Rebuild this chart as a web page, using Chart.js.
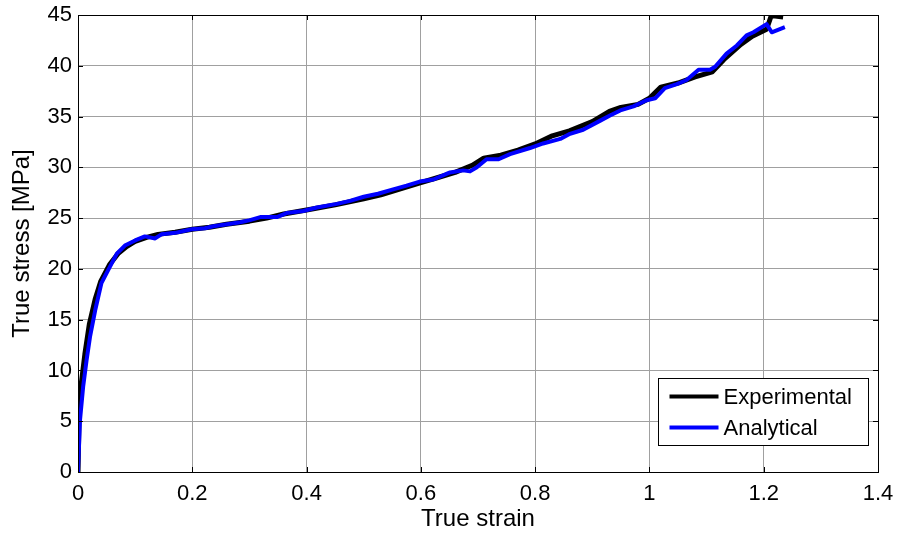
<!DOCTYPE html>
<html>
<head>
<meta charset="utf-8">
<script src="https://cdn.jsdelivr.net/npm/chart.js@4/dist/chart.umd.min.js"></script>
<style>
  html, body { margin: 0; padding: 0; background: #fff; }
  #wrap { width: 897px; height: 534px; position: relative; }
</style>
</head>
<body>
<div id="wrap"><canvas id="c" width="897" height="534"></canvas></div>
<script>
// ---- data ----
const seriesNames = ['Experimental', 'Analytical'];

const strainExp = [0, 0.002, 0.006, 0.012, 0.02, 0.03, 0.04, 0.055, 0.07, 0.085, 0.10, 0.12, 0.14, 0.17, 0.2, 0.23, 0.26, 0.3, 0.33, 0.36, 0.4, 0.45, 0.5, 0.53, 0.56, 0.6, 0.63, 0.66, 0.69, 0.71, 0.74, 0.77, 0.8, 0.83, 0.86, 0.9, 0.93, 0.95, 0.98, 1.0, 1.02, 1.05, 1.08, 1.11, 1.13, 1.16, 1.18, 1.205, 1.213, 1.22, 1.234];
const stressExp = [0, 6.0, 8.8, 11.6, 14.6, 17.0, 18.8, 20.4, 21.5, 22.2, 22.7, 23.1, 23.4, 23.6, 23.9, 24.1, 24.4, 24.7, 25.0, 25.4, 25.8, 26.3, 26.9, 27.3, 27.8, 28.5, 29.0, 29.5, 30.2, 30.9, 31.2, 31.7, 32.3, 33.1, 33.6, 34.5, 35.5, 35.9, 36.2, 36.8, 37.9, 38.3, 38.9, 39.4, 40.6, 42.1, 42.9, 43.6, 44.9, 44.9, 44.8];

const strainAna = [0, 0.0035, 0.009, 0.015, 0.021, 0.030, 0.041, 0.053, 0.068, 0.082, 0.10, 0.117, 0.135, 0.146, 0.17, 0.199, 0.222, 0.237, 0.261, 0.284, 0.301, 0.319, 0.348, 0.365, 0.394, 0.418, 0.453, 0.476, 0.50, 0.525, 0.55, 0.575, 0.598, 0.622, 0.651, 0.674, 0.686, 0.698, 0.715, 0.736, 0.756, 0.791, 0.814, 0.844, 0.861, 0.884, 0.914, 0.931, 0.949, 0.972, 0.995, 1.01, 1.027, 1.048, 1.065, 1.086, 1.106, 1.115, 1.135, 1.153, 1.17, 1.182, 1.205, 1.214, 1.237];
const stressAna = [0, 5.1, 8.4, 11.0, 13.3, 15.9, 18.6, 19.9, 21.5, 22.3, 22.8, 23.2, 23.0, 23.4, 23.55, 23.9, 24.0, 24.2, 24.4, 24.6, 24.8, 25.1, 25.1, 25.5, 25.7, 26.05, 26.4, 26.7, 27.1, 27.4, 27.8, 28.2, 28.6, 28.8, 29.5, 29.7, 29.6, 30.0, 30.8, 30.8, 31.3, 31.9, 32.35, 32.8, 33.3, 33.7, 34.6, 35.1, 35.6, 36.0, 36.6, 36.8, 37.8, 38.2, 38.6, 39.6, 39.6, 39.9, 41.2, 42.0, 43.0, 43.3, 44.1, 43.3, 43.8];

const xTicks = [0, 0.2, 0.4, 0.6, 0.8, 1, 1.2, 1.4];
const yTicks = [0, 5, 10, 15, 20, 25, 30, 35, 40, 45];
const xTitle = 'True strain';
const yTitle = 'True stress [MPa]';

// ---- chart ----
const FONT = '"Liberation Sans", Arial, sans-serif';
const toPts = (xs, ys) => xs.map((x, i) => ({ x: x, y: ys[i] }));

const boxPlugin = {
  id: 'matlabBox',
  afterDatasetsDraw(chart) {
    const { ctx, chartArea: a, scales } = chart;
    ctx.save();
    ctx.strokeStyle = '#000';
    ctx.lineWidth = 1;
    // inward ticks
    ctx.beginPath();
    yTicks.forEach(v => {
      const y = Math.round(scales.y.getPixelForValue(v)) + 0.5;
      ctx.moveTo(a.left, y); ctx.lineTo(a.left + 5, y);
      ctx.moveTo(a.right, y); ctx.lineTo(a.right - 5, y);
    });
    xTicks.forEach(v => {
      const x = Math.round(scales.x.getPixelForValue(v)) + 0.5;
      ctx.moveTo(x, a.bottom); ctx.lineTo(x, a.bottom - 5);
      ctx.moveTo(x, a.top); ctx.lineTo(x, a.top + 5);
    });
    ctx.stroke();
    // box
    ctx.strokeRect(Math.round(a.left) + 0.5, Math.round(a.top) + 0.5,
                   Math.round(a.right - a.left), Math.round(a.bottom - a.top));
    // legend
    const bw = 210, bh = 67;
    const bx = Math.round(a.right - 10 - bw) + 0.5, by = Math.round(a.bottom - 27 - bh) + 0.5;
    ctx.fillStyle = '#fff';
    ctx.fillRect(bx, by, bw, bh);
    ctx.strokeRect(bx, by, bw, bh);
    ctx.font = '22px ' + FONT;
    ctx.textBaseline = 'middle';
    ctx.textAlign = 'left';
    chart.data.datasets.forEach((ds, i) => {
      const ry = by + 18 + i * 31;
      ctx.beginPath();
      ctx.strokeStyle = ds.borderColor;
      ctx.lineWidth = 4;
      ctx.moveTo(bx + 11, ry); ctx.lineTo(bx + 60, ry);
      ctx.stroke();
      ctx.fillStyle = '#000';
      ctx.fillText(ds.label, bx + 65, ry + 1);
    });
    ctx.restore();
  }
};

new Chart(document.getElementById('c'), {
  type: 'scatter',
  data: {
    datasets: [
      { label: seriesNames[0], data: toPts(strainExp, stressExp), showLine: true, order: 1,
        borderColor: '#000000', borderWidth: 5, pointRadius: 0, borderJoinStyle: 'round', borderCapStyle: 'butt' },
      { label: seriesNames[1], data: toPts(strainAna, stressAna), showLine: true, order: 0,
        borderColor: '#0000ff', borderWidth: 4, pointRadius: 0, borderJoinStyle: 'round', borderCapStyle: 'butt' }
    ]
  },
  plugins: [boxPlugin],
  options: {
    responsive: false,
    animation: false,
    layout: { padding: { top: 15, right: 19, left: 0, bottom: 0 } },
    plugins: { legend: { display: false }, tooltip: { enabled: false } },
    scales: {
      x: {
        type: 'linear', min: 0, max: 1.4,
        afterBuildTicks: s => { s.ticks = xTicks.map(v => ({ value: v })); },
        afterFit: s => { s.height = 62; s.paddingLeft = 0; s.paddingRight = 0; },
        border: { display: false },
        grid: { color: '#a0a0a0', lineWidth: 1, drawTicks: false },
        ticks: { color: '#000', padding: 9, maxRotation: 0, font: { family: FONT, size: 22 },
                 callback: v => String(Number(v.toFixed(1))) },
        title: { display: true, text: xTitle, color: '#000', font: { family: FONT, size: 24 },
                 padding: { top: 0, bottom: 0 } }
      },
      y: {
        type: 'linear', min: 0, max: 45,
        afterBuildTicks: s => { s.ticks = yTicks.map(v => ({ value: v })); },
        afterFit: s => { s.width = 78; s.paddingTop = 0; s.paddingBottom = 0; },
        border: { display: false },
        grid: { color: '#a0a0a0', lineWidth: 1, drawTicks: false },
        ticks: { color: '#000', padding: 6, font: { family: FONT, size: 22 } },
        title: { display: true, text: yTitle, color: '#000', font: { family: FONT, size: 24 },
                 padding: { top: 8, bottom: 0 } }
      }
    }
  }
});
</script>
</body>
</html>
